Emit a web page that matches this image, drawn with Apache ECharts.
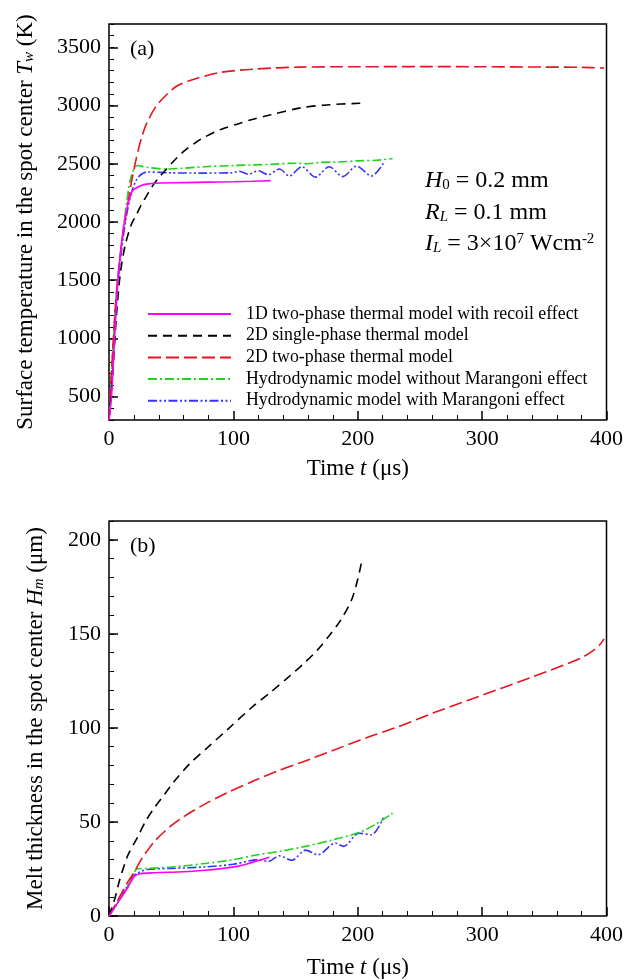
<!DOCTYPE html>
<html>
<head>
<meta charset="utf-8">
<script src="https://cdn.jsdelivr.net/npm/echarts@6/dist/echarts.min.js"></script>
<style>
html, body { margin: 0; padding: 0; background: #fff; }
#main { width: 626px; height: 980px; }
</style>
</head>
<body>
<div id="main"></div>
<script>
// series names
const names = [
	"1D two-phase thermal model with recoil effect",
	"2D single-phase thermal model",
	"2D two-phase thermal model",
	"Hydrodynamic model without Marangoni effect",
	"Hydrodynamic model with Marangoni effect"
];
const colors = ["#ff00ff", "#000000", "#e8141c", "#1ed41e", "#3434ff"];
const dashes = ["solid", [9, 6], [13, 5], [9, 3, 2, 3], [9, 2.5, 2, 2.5, 2, 2.5]];

// tick labels
const xTicks = [0, 100, 200, 300, 400];
const tempTicks = [500, 1000, 1500, 2000, 2500, 3000, 3500];
const meltTicks = [0, 50, 100, 150, 200];

// (a) surface temperature, K
const tA1D = [0, 2, 4, 6, 8, 11, 14, 18, 20, 25, 30, 40, 60, 80, 100, 115, 130];
const TA1D = [300, 500, 900, 1300, 1600, 1900, 2100, 2250, 2280, 2310, 2325, 2335, 2338, 2342, 2346, 2350, 2355];
const tA2Ds = [0, 3, 6, 9, 13, 18, 22, 26, 30, 35, 40, 45, 50, 55, 61, 70, 77, 90, 103, 115, 130, 154, 175, 202];
const TA2Ds = [300, 700, 1200, 1550, 1800, 1980, 2060, 2150, 2220, 2310, 2380, 2440, 2500, 2555, 2615, 2685, 2730, 2795, 2840, 2880, 2920, 2980, 3005, 3020];
const tA2Dt = [0, 3, 6, 10, 15, 18, 21, 24, 27, 30, 37, 45, 55, 69, 90, 117, 154, 200, 250, 300, 350, 380, 398];
const TA2Dt = [300, 900, 1400, 1800, 2150, 2340, 2500, 2640, 2750, 2840, 2980, 3080, 3170, 3228, 3285, 3313, 3330, 3333, 3334, 3333, 3330, 3328, 3322];
const tAnoM = [0, 3, 6, 10, 14, 18, 23, 30, 45, 60, 77, 100, 130, 150, 160, 170, 183, 200, 215, 228];
const TAnoM = [300, 900, 1400, 1800, 2150, 2400, 2485, 2470, 2455, 2462, 2475, 2485, 2495, 2505, 2500, 2512, 2515, 2525, 2530, 2545];
const tAM = [0, 3, 6, 10, 14, 18, 22, 26, 31, 50, 75, 98, 105, 112, 120, 128, 137, 145, 155, 166, 177, 188, 199, 211, 221];
const TAM = [300, 850, 1350, 1750, 2050, 2250, 2360, 2410, 2430, 2422, 2420, 2422, 2435, 2410, 2440, 2405, 2455, 2395, 2475, 2385, 2475, 2390, 2480, 2395, 2510];

// (b) melt thickness, um
const tB1D = [0, 5, 10, 15, 20.5, 25, 37, 60, 77, 90, 104, 115, 129];
const HB1D = [0, 5, 10, 15, 21.2, 22.5, 23, 23.5, 24.3, 25.2, 26.5, 28.5, 31.2];
const tB2Ds = [0, 5, 8.5, 15, 23, 30, 37, 45, 53, 65, 80, 95, 115, 130, 146, 157, 167, 177, 186, 195, 200, 203];
const HB2Ds = [0, 10, 19, 32, 42, 51, 58, 65, 72, 81, 90, 99, 111, 119, 128, 134.5, 141, 149, 157, 168, 179, 188];
const tB2Dt = [0, 5, 10, 15, 20, 25, 30, 37, 50, 60, 77, 95, 117, 135, 154, 180, 208, 230, 261, 290, 315, 340, 370, 382, 390, 395, 398];
const HB2Dt = [0, 6, 12, 18, 23, 29, 34, 40, 48, 52.8, 59.5, 65.5, 72, 77, 81.5, 88, 95, 100, 108, 115, 121, 127, 134.5, 138, 141.5, 144.5, 147.3];
const tBnoM = [0, 5, 10, 15, 20, 22, 30, 50, 77, 100, 120, 140, 158, 180, 201, 215, 228];
const HBnoM = [0, 5, 11, 16, 22, 25, 25.3, 26, 27.9, 30, 32.6, 34.7, 37, 40.5, 44.4, 49, 54.7];
const tBM = [0, 5, 10, 15, 20, 25, 31, 50, 77, 100, 120, 128, 137, 147, 158, 168, 182, 188.5, 201, 211, 221];
const HBM = [0, 5, 11, 16, 21.5, 23.5, 24.7, 25.3, 26.1, 27.5, 30, 29, 32, 29.6, 35, 32.6, 38.8, 37, 44, 43.2, 52.9];

const serif = "'Liberation Serif', 'Times New Roman', serif";

function zip(xs, ys){
	const out = [];
	for(let i = 0; i < xs.length; i++){
		out.push([xs[i], ys[i]]);
	}
	return out;
}

const dataA = [zip(tA1D, TA1D), zip(tA2Ds, TA2Ds), zip(tA2Dt, TA2Dt), zip(tAnoM, TAnoM), zip(tAM, TAM)];
const dataB = [zip(tB1D, HB1D), zip(tB2Ds, HB2Ds), zip(tB2Dt, HB2Dt), zip(tBnoM, HBnoM), zip(tBM, HBM)];

const series = [];
function addSeries(data, xi, yi){
	for(let i = 0; i < data.length; i++){
		series.push({
			name: names[i], type: "line", data: data[i],
			xAxisIndex: xi, yAxisIndex: yi,
			symbol: "none", showSymbol: false, smooth: 0.3,
			lineStyle: {color: colors[i], width: 1.6, type: dashes[i]},
			itemStyle: {color: colors[i]},
			z: 10 - i
		});
	}
}
addSeries(dataA, 0, 0);
addSeries(dataB, 1, 2);

const tickFont = {color: "#000", fontFamily: serif, fontSize: 22, formatter: function(v){ return String(v); }};
const titleRich = {
	n: {fontFamily: serif, fontSize: 23, color: "#000"},
	i: {fontFamily: serif, fontSize: 23, fontStyle: "italic", color: "#000"},
	s: {fontFamily: serif, fontSize: 15, fontStyle: "italic", color: "#000", verticalAlign: "bottom", lineHeight: 12}
};

function xAxisFor(gi, gap){
	return {
		type: "value", gridIndex: gi, min: 0, max: 400, interval: 100,
		axisLine: {show: false},
		axisTick: {inside: true, length: 9, lineStyle: {color: "#000", width: 1.5}},
		minorTick: {show: true, splitNumber: 5, length: 5, lineStyle: {color: "#000", width: 1}},
		splitLine: {show: false},
		axisLabel: Object.assign({margin: 8, customValues: xTicks}, tickFont),
		name: "{n|Time }{i|t}{n| (μs)}",
		nameLocation: "middle", nameGap: gap,
		nameTextStyle: {rich: titleRich}
	};
}

function yMajor(gi, min, max, ticks, name, gap){
	return {
		type: "value", gridIndex: gi, min: min, max: max, position: "left",
		axisLine: {show: false},
		axisTick: {inside: true, length: 9, customValues: ticks, lineStyle: {color: "#000", width: 1.5}},
		splitLine: {show: false},
		axisLabel: Object.assign({margin: 8, customValues: ticks}, tickFont),
		name: name, nameLocation: "middle", nameGap: gap,
		nameTextStyle: {rich: titleRich}
	};
}

function yMinor(gi, min, max, step){
	return {
		type: "value", gridIndex: gi, min: min, max: max, interval: step, position: "left",
		axisLine: {show: false},
		axisTick: {inside: true, length: 5, lineStyle: {color: "#000", width: 1}},
		axisLabel: {show: false},
		splitLine: {show: false}
	};
}

const annoRich = {
	n: {fontFamily: serif, fontSize: 24, color: "#000"},
	i: {fontFamily: serif, fontSize: 24, fontStyle: "italic", color: "#000"},
	s: {fontFamily: serif, fontSize: 15, color: "#000", verticalAlign: "bottom", lineHeight: 12},
	si: {fontFamily: serif, fontSize: 15, fontStyle: "italic", color: "#000", verticalAlign: "bottom", lineHeight: 12},
	p: {fontFamily: serif, fontSize: 15, color: "#000", verticalAlign: "top", lineHeight: 12}
};

var mychart = echarts.init(document.getElementById("main"), null, {renderer: "canvas"});

const option = {
	backgroundColor: "#fff",
	animation: false,
	grid: [
		{left: 109, top: 24, width: 499, height: 396, show: true, borderColor: "#000", borderWidth: 1.5, backgroundColor: "transparent"},
		{left: 109, top: 521, width: 499, height: 396, show: true, borderColor: "#000", borderWidth: 1.5, backgroundColor: "transparent"}
	],
	xAxis: [xAxisFor(0, 37), xAxisFor(1, 40)],
	yAxis: [
		yMajor(0, 300, 3700, tempTicks, "{n|Surface temperature in the spot center }{i|T}{s|w}{n| (K)}", 72),
		yMinor(0, 300, 3700, 100),
		yMajor(1, 0, 210, meltTicks, "{n|Melt thickness in the spot center }{i|H}{s|m}{n| (μm)}", 62),
		yMinor(1, 0, 210, 10)
	],
	legend: {
		show: true, orient: "vertical", left: 142, top: 300,
		itemWidth: 83, itemHeight: 14, itemGap: 3.7,
		data: names,
		itemStyle: {opacity: 0},
		textStyle: {fontFamily: serif, fontSize: 17.8, color: "#000", lineHeight: 18, padding: [0, 0, 0, 10]}
	},
	graphic: [
		{type: "text", left: 130, top: 38, style: {text: "(a)", font: "22px " + serif, fill: "#000"}},
		{type: "text", left: 130, top: 535, style: {text: "(b)", font: "22px " + serif, fill: "#000"}},
		{type: "text", left: 425, top: 169, style: {text: "{i|H}{s|0}{n| = 0.2 mm}", rich: annoRich}},
		{type: "text", left: 425, top: 201, style: {text: "{i|R}{si|L}{n| = 0.1 mm}", rich: annoRich}},
		{type: "text", left: 425, top: 232, style: {text: "{i|I}{si|L}{n| = 3×10}{p|7}{n| Wcm}{p|-2}", rich: annoRich}}
	],
	series: series
};
mychart.setOption(option);
</script>
</body>
</html>
